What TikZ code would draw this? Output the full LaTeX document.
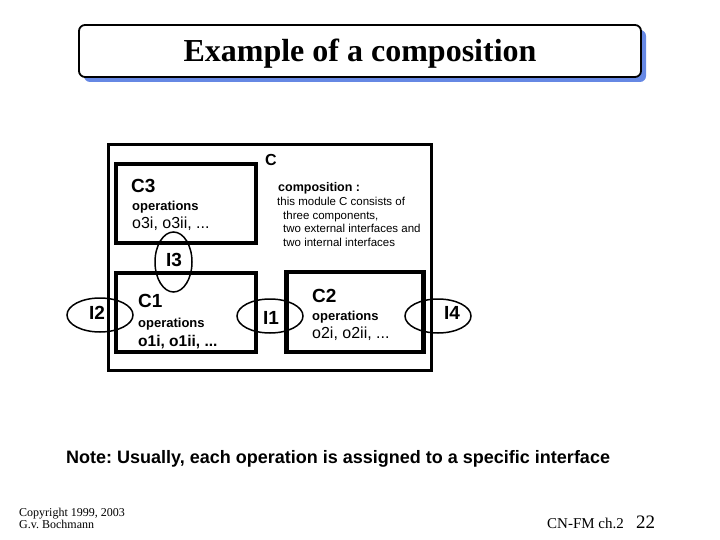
\documentclass[tikz,border=0pt]{standalone}
\usepackage{fontspec}
\setmainfont{Liberation Serif}
\setsansfont{Liberation Sans}
\usetikzlibrary{shapes.geometric}
\definecolor{shadowblue}{RGB}{102,136,228}
\frenchspacing
\begin{document}
\begin{tikzpicture}[x=1pt,y=-1pt,
  comp/.style={draw,line width=4.5pt,inner sep=0pt,rectangle},
  outerbox/.style={draw,line width=3pt,inner sep=0pt,rectangle},
  iface/.style={draw,ellipse,line width=1.5pt,inner sep=0pt},
  wide/.style={minimum width=66pt,minimum height=34pt},
  tall/.style={minimum width=37pt,minimum height=60pt},
  big/.style={font=\sffamily\bfseries\fontsize{19}{21}\selectfont,inner sep=0pt,anchor=base west},
  ilbl/.style={font=\sffamily\bfseries\fontsize{19}{21}\selectfont,inner sep=0pt},
  ops/.style={font=\sffamily\bfseries\fontsize{13}{15}\selectfont,inner sep=0pt,anchor=base west},
  opsreg/.style={font=\sffamily\fontsize{16}{18}\selectfont,inner sep=0pt,anchor=base west},
  opsbold/.style={font=\sffamily\bfseries\fontsize{15.5}{18}\selectfont,inner sep=0pt,anchor=base west},
  desc/.style={font=\sffamily\fontsize{11.5}{13}\selectfont,inner sep=0pt,anchor=base west},
  foot/.style={font=\fontsize{12}{12}\selectfont,inner sep=0pt,anchor=base west}
]
\useasboundingbox (0,0) rectangle (720,540);
% title
\fill[shadowblue, rounded corners=6pt] (84,30) rectangle (646,82);
\node[draw, fill=white, rounded corners=6pt, line width=1.8pt, minimum width=562pt, minimum height=52pt, inner sep=0pt] (title) at (360,51) {};
\node[font=\bfseries\fontsize{32}{36}\selectfont, inner sep=0pt, anchor=base] (titletext) at (360,62) {Example of a composition};
% module C
\node[outerbox, minimum width=323pt, minimum height=225pt] (C) at (269.5,257.5) {};
\node[comp, minimum width=140pt, minimum height=79pt] (c3) at (186,203.5) {};
\node[comp, minimum width=140pt, minimum height=79pt] (c1) at (186,312.5) {};
\node[comp, minimum width=137pt, minimum height=80pt] (c2) at (355,312) {};
% interfaces
\node[iface, tall] (i3) at (173.5,262) {};
\node[iface, wide] (i2) at (100,315) {};
\node[iface, wide] (i1) at (270,316) {};
\node[iface, wide] (i4) at (438,316) {};
% labels
\node[font=\sffamily\bfseries\fontsize{16}{18}\selectfont, inner sep=0pt, anchor=base west] (clbl) at (265,166) {C};
\node[big] (c3lbl) at (131,193) {C3};
\node[ops] (c3ops) at (132,211) {operations};
\node[opsreg] (c3list) at (132,229) {o3i, o3ii, ...};
\node[big] (c1lbl) at (138,307) {C1};
\node[ops] (c1ops) at (138,327) {operations};
\node[opsbold] (c1list) at (138,346) {o1i, o1ii, ...};
\node[big] (c2lbl) at (312,302) {C2};
\node[ops] (c2ops) at (312,320) {operations};
\node[opsreg] (c2list) at (312,338) {o2i, o2ii, ...};
\node[ilbl] (i3lbl) at (174,260) {I3};
\node[ilbl] (i2lbl) at (97,313) {I2};
\node[ilbl] (i1lbl) at (271,318) {I1};
\node[ilbl] (i4lbl) at (452,313) {I4};
% composition text
\node[font=\sffamily\bfseries\fontsize{12.5}{14}\selectfont, inner sep=0pt, anchor=base west] (comptitle) at (278,192) {composition :};
\node[desc] (d1) at (277,206) {this module C consists of};
\node[desc] (d2) at (283,219) {three components,};
\node[desc] (d3) at (283,233) {two external interfaces and};
\node[desc] (d4) at (283,246) {two internal interfaces};
% note
\node[font=\sffamily\bfseries\fontsize{18}{20}\selectfont, inner sep=0pt, anchor=base west] (note) at (66,463) {Note: Usually, each operation is assigned to a specific interface};
% footer
\node[foot] (copy1) at (19,516) {Copyright 1999, 2003};
\node[foot] (copy2) at (19,528) {G.v. Bochmann};
\node[font=\fontsize{15}{15}\selectfont, inner sep=0pt, anchor=base west] (chap) at (547,528) {CN-FM ch.2};
\node[font=\fontsize{19}{19}\selectfont, inner sep=0pt, anchor=base west] (pagenum) at (636,528) {22};
\end{tikzpicture}
\end{document}
